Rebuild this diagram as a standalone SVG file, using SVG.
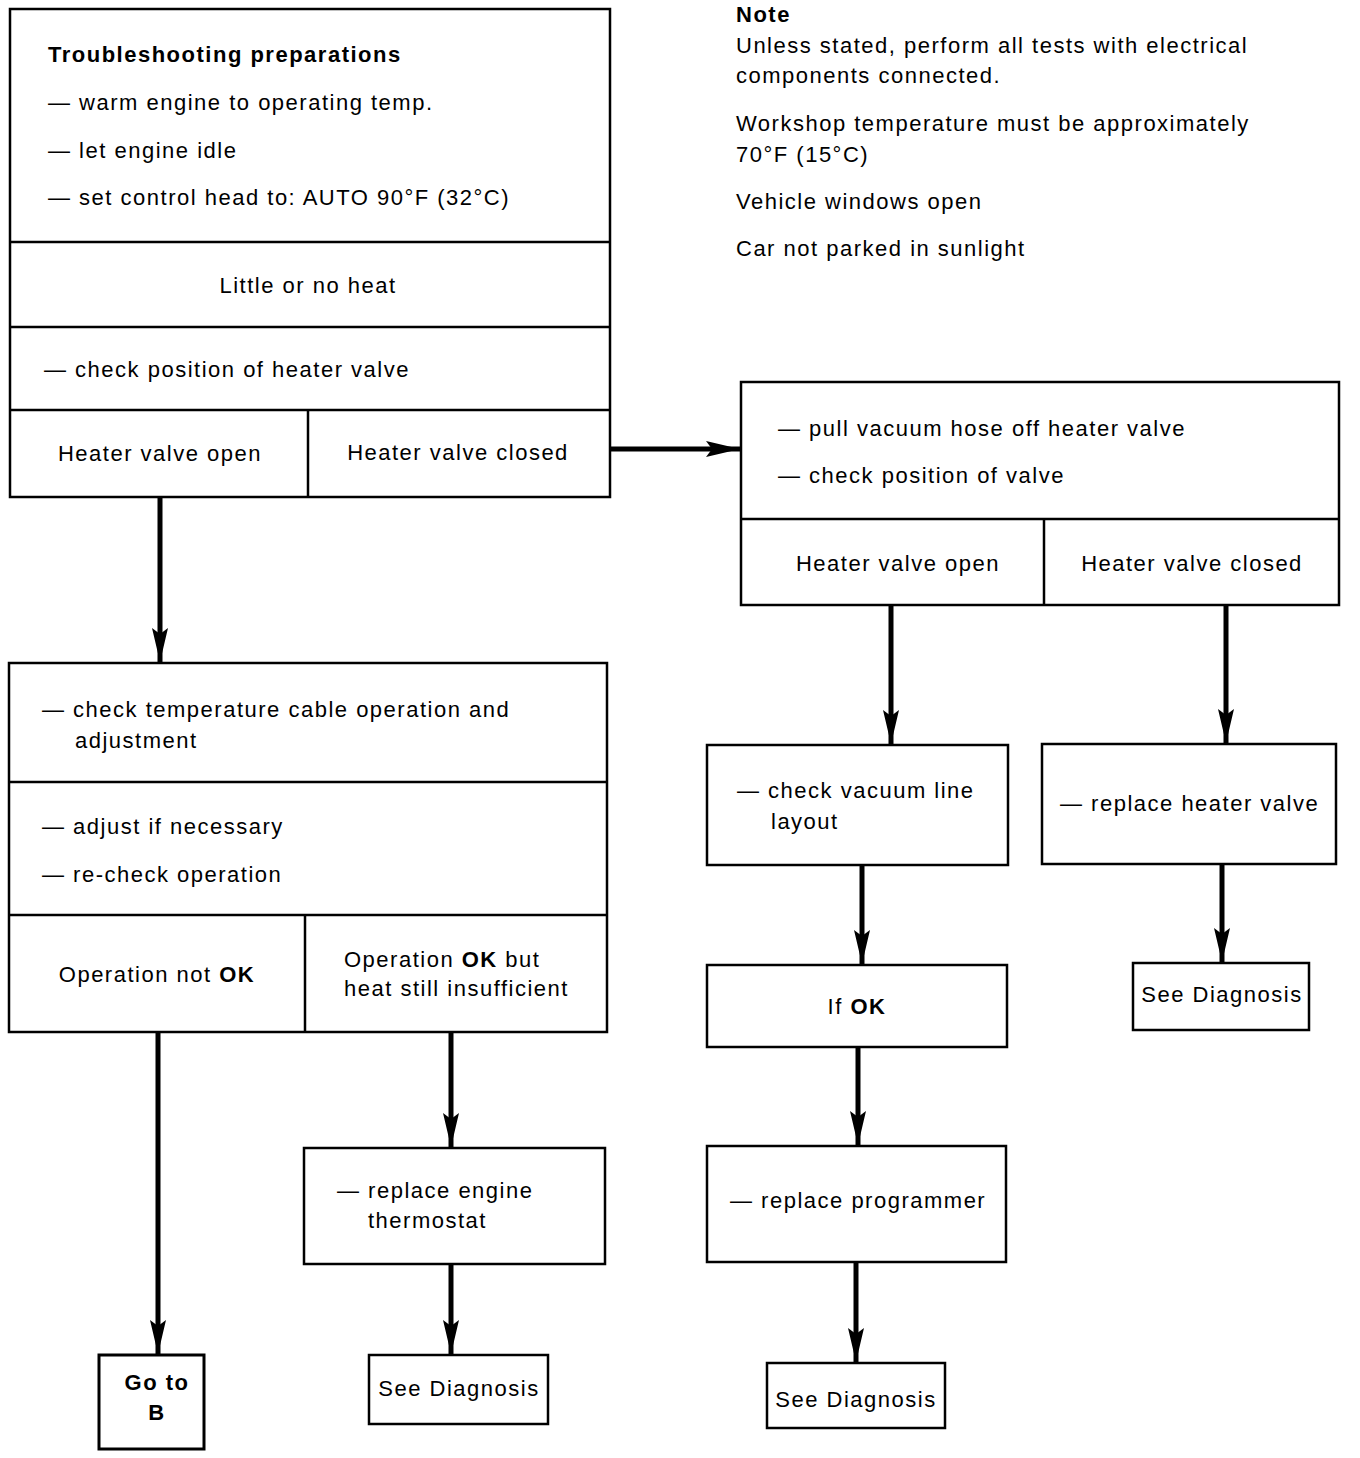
<svg xmlns="http://www.w3.org/2000/svg" width="1360" height="1458" viewBox="0 0 1360 1458">
<defs>
<marker id="ah" markerUnits="userSpaceOnUse" markerWidth="36" markerHeight="20" refX="34" refY="10" orient="auto">
<path d="M0,2 L34,10 L0,18 L6,10 Z" fill="#000"/>
</marker>
</defs>
<style>
rect.b{fill:#fff;stroke:#000;stroke-width:2.5}
line.d{stroke:#000;stroke-width:2.5}
line.c{stroke:#000;stroke-width:5;marker-end:url(#ah)}
text{font-family:"Liberation Sans",Arial,sans-serif;font-size:22px;letter-spacing:1.5px;fill:#000}
.bd{font-weight:bold}
.m{text-anchor:middle}
</style>
<rect width="1360" height="1458" fill="#fff"/>
<g id="connectors">
<line class="c" x1="610" y1="449" x2="740" y2="449"/>
<line class="c" x1="160" y1="497" x2="160" y2="662"/>
<line class="c" x1="158" y1="1032" x2="158" y2="1354"/>
<line class="c" x1="451" y1="1032" x2="451" y2="1147"/>
<line class="c" x1="451" y1="1264" x2="451" y2="1354"/>
<line class="c" x1="891" y1="605" x2="891" y2="744"/>
<line class="c" x1="1226" y1="605" x2="1226" y2="743"/>
<line class="c" x1="862" y1="865" x2="862" y2="964"/>
<line class="c" x1="1222" y1="864" x2="1222" y2="962"/>
<line class="c" x1="858" y1="1047" x2="858" y2="1145"/>
<line class="c" x1="856" y1="1262" x2="856" y2="1362"/>
</g>
<g id="note">
<text x="736" y="22" class="bd">Note</text>
<text x="736" y="53">Unless stated, perform all tests with electrical</text>
<text x="736" y="83">components connected.</text>
<text x="736" y="131">Workshop temperature must be approximately</text>
<text x="736" y="162">70°F (15°C)</text>
<text x="736" y="209">Vehicle windows open</text>
<text x="736" y="256">Car not parked in sunlight</text>
</g>
<g id="box-start">
<rect class="b" x="10" y="9" width="600" height="488"/>
<line class="d" x1="10" y1="242" x2="610" y2="242"/>
<line class="d" x1="10" y1="327" x2="610" y2="327"/>
<line class="d" x1="10" y1="410" x2="610" y2="410"/>
<line class="d" x1="308" y1="410" x2="308" y2="497"/>
<text x="48" y="62" class="bd">Troubleshooting preparations</text>
<text x="48" y="110">— warm engine to operating temp.</text>
<text x="48" y="158">— let engine idle</text>
<text x="48" y="205">— set control head to: AUTO 90°F (32°C)</text>
<text x="308" y="293" class="m">Little or no heat</text>
<text x="44" y="377">— check position of heater valve</text>
<text x="160" y="461" class="m">Heater valve open</text>
<text x="458" y="460" class="m">Heater valve closed</text>
</g>
<g id="box-pull-hose">
<rect class="b" x="741" y="382" width="598" height="223"/>
<line class="d" x1="741" y1="519" x2="1339" y2="519"/>
<line class="d" x1="1044" y1="519" x2="1044" y2="605"/>
<text x="778" y="436">— pull vacuum hose off heater valve</text>
<text x="778" y="483">— check position of valve</text>
<text x="898" y="571" class="m">Heater valve open</text>
<text x="1192" y="571" class="m">Heater valve closed</text>
</g>
<g id="box-temp-cable">
<rect class="b" x="9" y="663" width="598" height="369"/>
<line class="d" x1="9" y1="782" x2="607" y2="782"/>
<line class="d" x1="9" y1="915" x2="607" y2="915"/>
<line class="d" x1="305" y1="915" x2="305" y2="1032"/>
<text x="42" y="717">— check temperature cable operation and</text>
<text x="75" y="748">adjustment</text>
<text x="42" y="834">— adjust if necessary</text>
<text x="42" y="882">— re-check operation</text>
<text x="157" y="982" class="m">Operation not <tspan class="bd">OK</tspan></text>
<text x="344" y="967">Operation <tspan class="bd">OK</tspan> but</text>
<text x="344" y="996">heat still insufficient</text>
</g>
<g id="box-thermostat">
<rect class="b" x="304" y="1148" width="301" height="116"/>
<text x="337" y="1198">— replace engine</text>
<text x="368" y="1228">thermostat</text>
</g>
<g id="box-goto-b">
<rect class="b" x="99" y="1355" width="105" height="94" style="stroke-width:3"/>
<text x="157" y="1390" class="m bd">Go to</text>
<text x="157" y="1420" class="m bd">B</text>
</g>
<g id="box-diag-1">
<rect class="b" x="369" y="1355" width="179" height="69"/>
<text x="459" y="1396" class="m">See Diagnosis</text>
</g>
<g id="box-vacuum-line">
<rect class="b" x="707" y="745" width="301" height="120"/>
<text x="737" y="798">— check vacuum line</text>
<text x="771" y="829">layout</text>
</g>
<g id="box-replace-valve">
<rect class="b" x="1042" y="744" width="294" height="120"/>
<text x="1060" y="811">— replace heater valve</text>
</g>
<g id="box-if-ok">
<rect class="b" x="707" y="965" width="300" height="82"/>
<text x="857" y="1014" class="m">If <tspan class="bd">OK</tspan></text>
</g>
<g id="box-diag-2">
<rect class="b" x="1133" y="963" width="176" height="67"/>
<text x="1222" y="1002" class="m">See Diagnosis</text>
</g>
<g id="box-programmer">
<rect class="b" x="707" y="1146" width="299" height="116"/>
<text x="730" y="1208">— replace programmer</text>
</g>
<g id="box-diag-3">
<rect class="b" x="767" y="1363" width="178" height="65"/>
<text x="856" y="1407" class="m">See Diagnosis</text>
</g>
</svg>
